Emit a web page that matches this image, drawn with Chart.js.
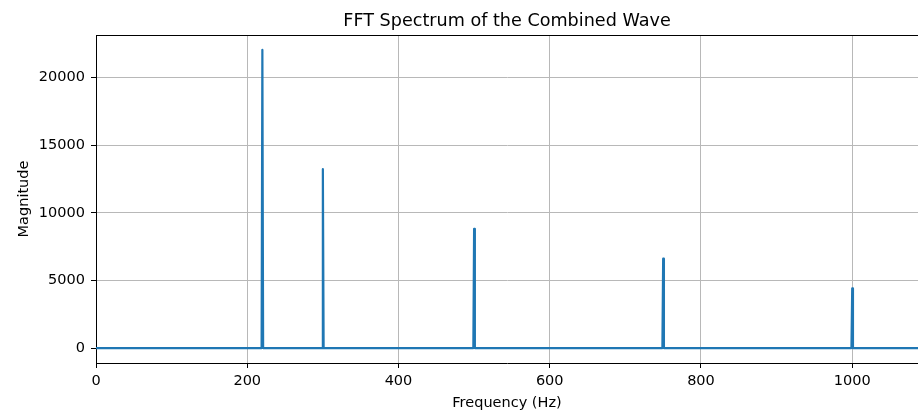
<!DOCTYPE html>
<html>
<head>
<meta charset="utf-8">
<script src="https://cdn.jsdelivr.net/npm/chart.js@4"></script>
<style>
  html, body { margin: 0; padding: 0; background: #fff; overflow: hidden; }
  #wrap { width: 918px; height: 412px; }
</style>
</head>
<body>
<div id="wrap"><canvas id="c" width="918" height="412"></canvas></div>
<script>
// ---- data ----
const peakFrequencies = [220, 300, 500, 750, 1000];        // Hz
const peakMagnitudes  = [22050, 13230, 8820, 6615, 4410];  // FFT magnitude
const binWidth = 1;                                         // Hz per FFT bin
const spectrumStart = 0;                                    // Hz
const spectrumEnd = 22050;                                  // Hz (Nyquist)
const xTickValues = [0, 200, 400, 600, 800, 1000];
const yTickValues = [0, 5000, 10000, 15000, 20000];
const chartTitle = 'FFT Spectrum of the Combined Wave';

// build the spectrum polyline: flat zero baseline with single-bin peaks
const spectrum = [{ x: spectrumStart, y: 0 }];
peakFrequencies.forEach((f, i) => {
  spectrum.push({ x: f - binWidth, y: 0 });
  spectrum.push({ x: f, y: peakMagnitudes[i] });
  spectrum.push({ x: f + binWidth, y: 0 });
});
spectrum.push({ x: spectrumEnd, y: 0 });

const FONT = "'DejaVu Sans', 'Liberation Sans', sans-serif";
Chart.defaults.font.family = FONT;
Chart.defaults.color = '#000';

const frame = {
  id: 'frame',
  afterDraw(chart) {
    const { ctx, chartArea } = chart;
    ctx.save();
    ctx.strokeStyle = '#000';
    ctx.lineWidth = 1;
    ctx.beginPath();
    ctx.moveTo(chartArea.left, Math.round(chartArea.top) + 0.5);
    ctx.lineTo(chartArea.right, Math.round(chartArea.top) + 0.5);
    ctx.stroke();
    // title centred over the axes, like matplotlib
    ctx.fillStyle = '#000';
    ctx.font = '17.6px ' + FONT;
    ctx.textAlign = 'center';
    ctx.textBaseline = 'alphabetic';
    ctx.fillText(chartTitle, (chartArea.left + chartArea.right) / 2, chartArea.top - 9);
    ctx.restore();
  }
};

new Chart(document.getElementById('c'), {
  type: 'line',
  data: {
    datasets: [{
      data: spectrum,
      borderColor: '#1f77b4',
      backgroundColor: '#1f77b4',
      borderWidth: 2.2,
      borderJoinStyle: 'round',
      pointRadius: 0,
      tension: 0,
      fill: false
    }]
  },
  options: {
    responsive: false,
    devicePixelRatio: 1,
    animation: false,
    parsing: false,
    layout: { padding: { top: 35, left: 0, right: 0, bottom: 0 } },
    plugins: {
      legend: { display: false },
      tooltip: { enabled: false },
      title: { display: false }
    },
    scales: {
      x: {
        type: 'linear',
        min: 0,
        max: 1087,
        afterFit(scale) { scale.height = 49; },
        afterBuildTicks(scale) { scale.ticks = xTickValues.map(v => ({ value: v })); },
        ticks: { font: { size: 14.5 }, color: '#000', padding: 5, maxRotation: 0, autoSkip: false,
                 callback: v => String(v) },
        grid: { color: '#b8b8b8', lineWidth: 1, tickLength: 5, tickColor: '#000', drawOnChartArea: true },
        border: { display: true, color: '#000', width: 1 },
        title: {
          display: true,
          text: 'Frequency (Hz)',
          color: '#000',
          font: { size: 14.5, lineHeight: 1.2 },
          padding: { top: 0, bottom: 0 }
        }
      },
      y: {
        type: 'linear',
        min: -1102.5,
        max: 23152.5,
        afterFit(scale) { scale.width = 96; },
        afterBuildTicks(scale) { scale.ticks = yTickValues.map(v => ({ value: v })); },
        ticks: { font: { size: 14.5 }, color: '#000', padding: 6, autoSkip: false,
                 callback: v => String(v) },
        grid: { color: '#b8b8b8', lineWidth: 1, tickLength: 5, tickColor: '#000' },
        border: { display: true, color: '#000', width: 1 },
        title: {
          display: true,
          text: 'Magnitude',
          color: '#000',
          font: { size: 14.5, lineHeight: 1.2 },
          padding: { top: 15.3, bottom: 0 }
        }
      }
    }
  },
  plugins: [frame]
});
</script>
</body>
</html>
